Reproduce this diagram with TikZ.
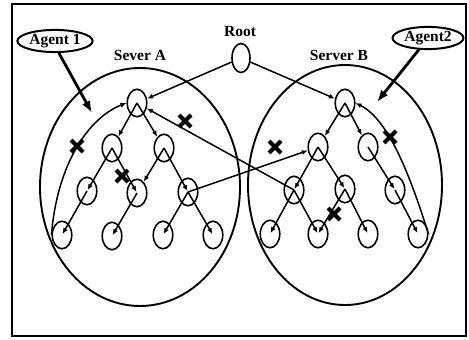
\documentclass[tikz,border=0pt]{standalone}
\usepackage{fontspec}
\setmainfont{Liberation Serif}
\usetikzlibrary{arrows.meta,shapes.geometric}
\begin{document}
\begin{tikzpicture}[x=1pt,y=-1pt,
  every node/.style={font=\fontsize{15.5}{17}\selectfont\bfseries},
  tn/.style={draw, ellipse, line width=1.6pt, minimum width=19.5pt, minimum height=27.5pt, inner sep=0pt},
  srv/.style={draw, ellipse, line width=1.9pt, inner sep=0pt},
  agent/.style={draw, ellipse, line width=2pt, inner sep=1pt},
  ed/.style={line width=1.5pt, -{Latex[length=6pt,width=5pt]}},
  big/.style={line width=2.8pt, -{Latex[length=12pt,width=9pt]}},
  xmk/.pic={\draw[line width=4.2pt] (-6,-6)--(6,6) (-6,6)--(6,-6);}
]
\useasboundingbox (0,0) rectangle (469,340);
\draw[line width=2pt] (12,4) rectangle (466,336);

% servers
\node[srv, minimum width=200pt, minimum height=238pt] (sa) at (140,187) {};
\node[srv, minimum width=194pt, minimum height=240pt] (sb) at (345,185) {};
\node (la) at (140,55) {Sever A};
\node (lb) at (339,55) {Server B};

% root
\node (lr) at (240,32) {Root};
\node[tn, minimum width=18pt, minimum height=29pt] (r) at (241,58) {};

% agents
\node[agent, minimum width=69pt, minimum height=22pt] (ag1) at (55,41) {Agent 1};
\node[agent, minimum width=71pt, minimum height=21pt] (ag2) at (428,38) {Agent2};
\coordinate (p1) at (92,113);
\coordinate (p2) at (377,102);
\draw[big] (ag1.-72) -- (p1);
\draw[big] (ag2.-128) -- (p2);

% tree A
\node[tn] (a0) at (137,103) {};
\node[tn] (a1) at (112,148) {};
\node[tn] (a2) at (164,148) {};
\node[tn] (a3) at (87,191) {};
\node[tn] (a4) at (137,193) {};
\node[tn] (a5) at (188,192) {};
\node[tn] (a6) at (62,235) {};
\node[tn] (a7) at (112,236) {};
\node[tn] (a8) at (163,235) {};
\node[tn] (a9) at (213,235) {};

% tree B
\node[tn] (b0) at (345,103) {};
\node[tn] (b1) at (318,147) {};
\node[tn] (b2) at (368,147) {};
\node[tn] (b3) at (294,190) {};
\node[tn] (b4) at (345,189) {};
\node[tn] (b5) at (395,190) {};
\node[tn] (b6) at (270,234) {};
\node[tn] (b7) at (318,234) {};
\node[tn] (b8) at (368,234) {};
\node[tn] (b9) at (418,234) {};

% root links
\draw[ed] (r) -- (a0);
\draw[ed] (r) -- (b0);

% tree A edges
\draw[ed] (a0.center) -- (a1);
\draw[ed] (a0.center) -- (a2);
\draw[ed, shorten >=1pt] (a1.center) -- (a3.center);
\draw[ed, shorten >=1pt] (a1.center) -- (a4.center);
\draw[ed] (a2.center) -- (a4);
\draw[ed, shorten >=1pt] (a2.center) -- (a5.center);
\draw[ed, shorten >=1pt] (a3.center) -- (a6.center);
\draw[ed, shorten >=1pt] (a4.center) -- (a7.center);
\draw[ed, shorten >=1pt] (a5.center) -- (a8.center);
\draw[ed, shorten >=1pt] (a5.center) -- (a9.center);
\draw[ed] (a6.west) .. controls (57,165) and (88,118) .. (a0.west);

% tree B edges
\draw[ed] (b0.center) -- (b1);
\draw[ed] (b0.center) -- (b2);
\draw[ed, shorten >=1pt] (b1.center) -- (b3.center);
\draw[ed, shorten >=1pt] (b1.center) -- (b4.center);
\draw[ed, shorten >=1pt] (b3.center) -- (b6.center);
\draw[ed, shorten >=1pt] (b3.center) -- (b7.center);
\draw[ed, shorten >=1pt] (b4.center) -- (b7.center);
\draw[ed, shorten >=1pt] (b4.center) -- (b8.center);
\draw[ed, shorten >=1pt] (b2.center) -- (b5.center);
\draw[ed, shorten >=1pt] (b5.center) -- (b9.center);
\draw[ed] (b9.east) .. controls (412,182) and (390,120) .. (b0.east);

% cross links
\draw[ed] (b3.center) -- (a0);
\draw[ed] (a5.center) -- (b1);

% blocked marks
\pic at (77,146) {xmk};
\pic at (185,121) {xmk};
\pic at (122,176) {xmk};
\pic at (275,147) {xmk};
\pic at (390,137) {xmk};
\pic at (334,214) {xmk};
\end{tikzpicture}
\end{document}
